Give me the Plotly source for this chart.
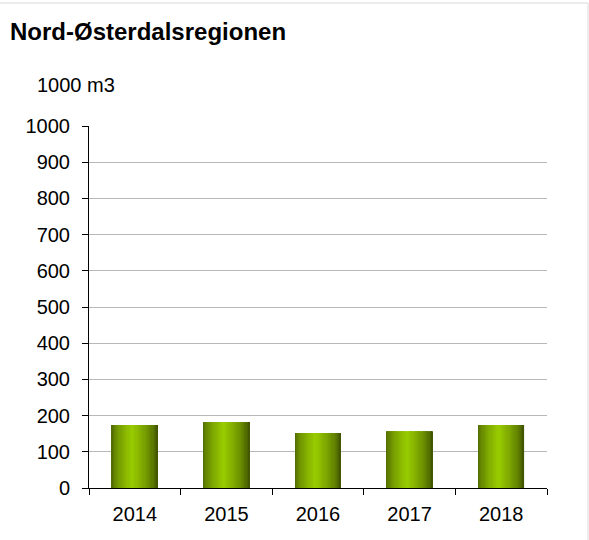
import plotly.graph_objects as go

years = ["2014", "2015", "2016", "2017", "2018"]
values = [174, 182, 152, 157, 174]
title_text = "Nord-Østerdalsregionen"
unit_text = "1000 m3"

W, H = 589, 540
L, R, T, B = 89, 42, 126, 52
FONT = "Liberation Sans, Arial, sans-serif"

dark_l = (0x4a, 0x62, 0x00)
dark_r = (0x38, 0x4a, 0x00)
bright = (0x99, 0xcc, 0x00)
peak = 0.45


def stripe_color(t):
    if t <= peak:
        f = t / peak
        a = dark_l
    else:
        f = (1 - t) / (1 - peak)
        a = dark_r
    f = f ** 0.6
    c = [round(a[k] + (bright[k] - a[k]) * f) for k in range(3)]
    return "rgb(%d,%d,%d)" % tuple(c)


fig = go.Figure()
bar_w = 0.5
n = 40
sw = bar_w / n
for i in range(n):
    t = (i + 0.5) / n
    w = sw * 1.6 if i < n - 1 else sw
    fig.add_trace(go.Bar(
        x=years, y=values,
        width=[w] * len(years),
        offset=[-bar_w / 2 + i * sw] * len(years),
        marker=dict(color=stripe_color(t), line=dict(width=0)),
        showlegend=False, hoverinfo="x+y",
    ))

fig.update_layout(
    width=W, height=H,
    margin=dict(l=L, r=R, t=T, b=B),
    barmode="overlay",
    paper_bgcolor="white", plot_bgcolor="white",
    font=dict(family=FONT, size=20, color="black"),
    title=dict(text="<b>" + title_text + "</b>", xref="container", yref="container",
               x=10 / W, y=1 - 32 / H, xanchor="left", yanchor="middle",
               font=dict(family=FONT, size=24, color="black")),
    xaxis=dict(type="category", showline=True, linecolor="black", linewidth=1,
               ticks="outside", tickson="boundaries", ticklen=6, tickcolor="black",
               ticklabelstandoff=8,
               showgrid=False, tickfont=dict(size=20), fixedrange=True),
    yaxis=dict(range=[0, 1000], dtick=100, showline=True, linecolor="black", linewidth=1,
               ticks="outside", ticklen=6, tickcolor="black",
               ticklabelstandoff=8,
               showgrid=True, gridcolor="#b8b8b8", gridwidth=1, zeroline=False,
               tickfont=dict(size=20), fixedrange=True),
    annotations=[dict(text=unit_text, xref="paper", yref="paper",
                      x=(35 - L) / (W - L - R), y=(H - B - 85) / (H - T - B),
                      xanchor="left", yanchor="middle", showarrow=False,
                      font=dict(family=FONT, size=20, color="black"))],
    shapes=[dict(type="rect", xref="paper", yref="paper",
                 x0=-1, x1=(588 - L) / (W - L - R),
                 y0=-1, y1=(H - B - 3) / (H - T - B),
                 line=dict(color="#d9d9d9", width=1), fillcolor="rgba(0,0,0,0)",
                 layer="below")],
)

fig.write_html("out.html", config={"displayModeBar": False},
               post_script="document.body.style.margin='0';document.body.style.overflow='hidden';")
